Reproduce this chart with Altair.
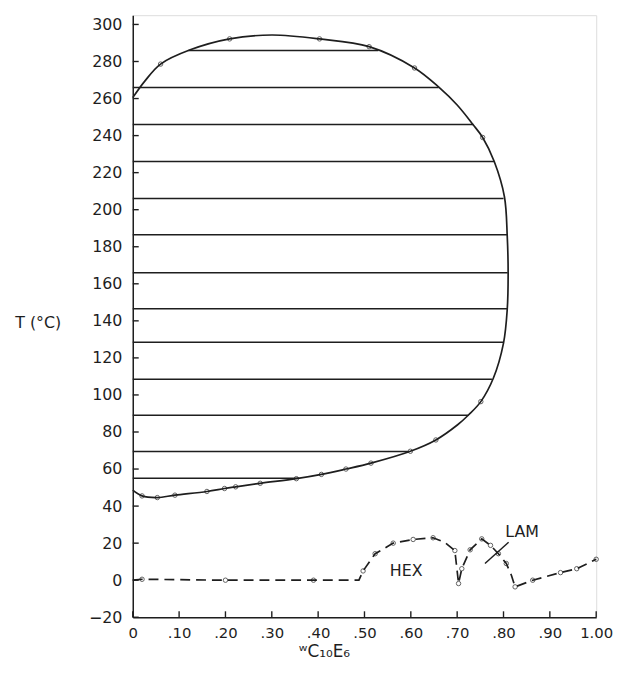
import altair as alt
import pandas as pd

# ---- data ----
# binodal (solid) curve, ordered along the path
curve_x = [0.0, 0.026, 0.06, 0.124, 0.209, 0.30, 0.403, 0.51, 0.608, 0.661, 0.70, 0.734, 0.755,
           0.78, 0.802, 0.808, 0.81, 0.808, 0.80, 0.778, 0.751, 0.725, 0.701, 0.654, 0.599,
           0.514, 0.46, 0.407, 0.353, 0.275, 0.222, 0.198, 0.16, 0.091, 0.053, 0.02, 0.0]
curve_T = [260.5, 269.4, 278.6, 286.3, 292.2, 294.3, 292.2, 288.0, 276.5, 266.0, 256.5, 246.0, 239.0,
           226.0, 207.0, 186.0, 165.0, 146.0, 128.0, 109.0, 96.4, 89.3, 83.9, 75.7, 69.6,
           63.2, 60.0, 57.1, 54.8, 52.3, 50.4, 49.5, 47.9, 45.9, 44.6, 45.5, 48.6]

# measured points on the binodal
pts_x = [0.06, 0.209, 0.403, 0.51, 0.608, 0.755, 0.751, 0.654, 0.599, 0.514, 0.46, 0.407,
         0.353, 0.275, 0.222, 0.198, 0.16, 0.091, 0.053, 0.02]
pts_T = [278.6, 292.2, 292.2, 288.0, 276.5, 239.0, 96.4, 75.7, 69.6, 63.2, 60.0, 57.1,
         54.8, 52.3, 50.4, 49.5, 47.9, 45.9, 44.6, 45.5]

# tie lines
tie_T = [286, 266, 246, 226, 206, 186.5, 166, 146.5, 128.5, 108.5, 89, 69.5, 55]
tie_x1 = [0.12, 0, 0, 0, 0, 0, 0, 0, 0, 0, 0, 0, 0]
tie_x2 = [0.53, 0.66, 0.735, 0.78, 0.80, 0.808, 0.809, 0.808, 0.80, 0.775, 0.725, 0.595, 0.358]

# liquid crystal boundary (dashed)
lc_x = [0.0, 0.02, 0.2, 0.39, 0.488, 0.497, 0.523, 0.562, 0.605, 0.648, 0.673, 0.695, 0.703,
        0.71, 0.728, 0.753, 0.772, 0.789, 0.806, 0.817, 0.825, 0.863, 0.923, 0.958, 1.0]
lc_T = [0.0, 0.5, 0.0, 0.0, 0.0, 5.0, 14.3, 20.0, 22.0, 22.9, 20.5, 16.0, -1.8,
        6.2, 16.4, 22.3, 18.8, 14.3, 9.0, 2.7, -3.6, 0.0, 4.1, 6.2, 11.3]
lc_pts_x = [0.02, 0.2, 0.39, 0.497, 0.523, 0.562, 0.605, 0.648, 0.695, 0.703, 0.71, 0.728,
            0.753, 0.772, 0.789, 0.806, 0.825, 0.863, 0.923, 0.958, 1.0]
lc_pts_T = [0.5, 0.0, 0.0, 5.0, 14.3, 20.0, 22.0, 22.9, 16.0, -1.8, 6.2, 16.4,
            22.3, 18.8, 14.3, 9.0, -3.6, 0.0, 4.1, 6.2, 11.3]

labels = ["HEX", "LAM"]
label_x = [0.59, 0.84]
label_T = [5.0, 26.0]

pointer_x = [0.76]
pointer_x2 = [0.811]
pointer_T = [9.0]
pointer_T2 = [20.5]

x_ticks = [0, 0.1, 0.2, 0.3, 0.4, 0.5, 0.6, 0.7, 0.8, 0.9, 1.0]
y_ticks = list(range(-20, 301, 20))

W, H = 468, 608
FONT = "DejaVu Sans"
INK = "#1e1e1e"

xs = alt.Scale(domain=[0, 1], nice=False, zero=False)
ys = alt.Scale(domain=[-20, 305], nice=False, zero=False)

x_axis = alt.Axis(values=x_ticks, ticks=False, grid=False, domainColor=INK, domainWidth=1.5,
                  labelExpr="datum.value == 0 ? '0' : (datum.value == 1 ? '1.00' : substring(format(datum.value, '.2f'), 1))",
                  labelFontSize=15, labelFont=FONT, labelColor=INK, labelPadding=8,
                  labelOverlap=False, labelFlush=False,
                  title="ʷC₁₀E₆", titleFont=FONT, titleFontSize=17, titleX=193,
                  titleAlign="center", titleFontWeight="normal", titleColor=INK,
                  titlePadding=4)
y_axis = alt.Axis(values=y_ticks, ticks=False, grid=False, domainColor=INK, domainWidth=1.5,
                  labelExpr="datum.value < 0 ? '\u2212' + abs(datum.value) : '' + datum.value",
                  labelFontSize=16, labelFont=FONT, labelColor=INK, labelPadding=11,
                  labelOverlap=False, labelFlush=False,
                  title="T (°C)", titleAngle=0, titleX=-96, titleY=310, titleAlign="center",
                  titleBaseline="middle", titleFont=FONT, titleFontSize=16,
                  titleFontWeight="normal", titleColor=INK)

curve_df = pd.DataFrame({"x": curve_x, "T": curve_T, "o": range(len(curve_x))})
pts_df = pd.DataFrame({"x": pts_x, "T": pts_T})
tie_df = pd.DataFrame({"x1": tie_x1, "x2": tie_x2, "T": tie_T})
lc_df = pd.DataFrame({"x": lc_x, "T": lc_T, "o": range(len(lc_x))})
lc_pts_df = pd.DataFrame({"x": lc_pts_x, "T": lc_pts_T})
lab_df = pd.DataFrame({"t": labels, "x": label_x, "T": label_T})
ptr_df = pd.DataFrame({"x": pointer_x, "x2": pointer_x2, "T": pointer_T, "T2": pointer_T2})
xt_df = pd.DataFrame({"v": x_ticks})
yt_df = pd.DataFrame({"v": y_ticks})

base_x = alt.X("x:Q", scale=xs, axis=x_axis)
base_y = alt.Y("T:Q", scale=ys, axis=y_axis)

ties = alt.Chart(tie_df).mark_rule(color=INK, strokeWidth=1.5).encode(
    x=alt.X("x1:Q", scale=xs, axis=x_axis), x2="x2:Q", y=base_y)

curve = alt.Chart(curve_df).mark_line(color=INK, strokeWidth=1.7,
                                       interpolate="catmull-rom").encode(
    x=base_x, y=base_y, order="o:Q")

pts = alt.Chart(pts_df).mark_point(shape="circle", filled=False, size=20,
                                    color=INK, strokeWidth=1).encode(x=base_x, y=base_y)

lc = alt.Chart(lc_df).mark_line(color=INK, strokeWidth=1.7, strokeDash=[10, 6]).encode(
    x=base_x, y=base_y, order="o:Q")

lc_pts = alt.Chart(lc_pts_df).mark_point(shape="circle", filled=False, size=20,
                                          color=INK, strokeWidth=1).encode(x=base_x, y=base_y)

ptr = alt.Chart(ptr_df).mark_rule(color=INK, strokeWidth=1.5).encode(
    x=base_x, x2="x2:Q", y=base_y, y2="T2:Q")

texts = alt.Chart(lab_df).mark_text(font=FONT, fontSize=16, color=INK,
                                    align="center", baseline="middle").encode(
    x=base_x, y=base_y, text="t:N")

yt = alt.Chart(yt_df).mark_rule(color=INK, strokeWidth=1.4).encode(
    y=alt.Y("v:Q", scale=ys, axis=y_axis), x=alt.value(0), x2=alt.value(6))
xt = alt.Chart(xt_df).mark_rule(color=INK, strokeWidth=1.4).encode(
    x=alt.X("v:Q", scale=xs, axis=x_axis), y=alt.value(H), y2=alt.value(H - 6))

chart = alt.layer(ties, curve, pts, lc, lc_pts, ptr, texts, yt, xt).properties(
    width=W, height=H,
    autosize=alt.AutoSizeParams(type="none"),
    padding={"left": 126, "top": 4, "right": 20, "bottom": 48}
).configure_view(stroke=INK, strokeWidth=1.5).configure(background="white")

chart.save("out.html", embed_options={"renderer": "svg", "actions": False})
